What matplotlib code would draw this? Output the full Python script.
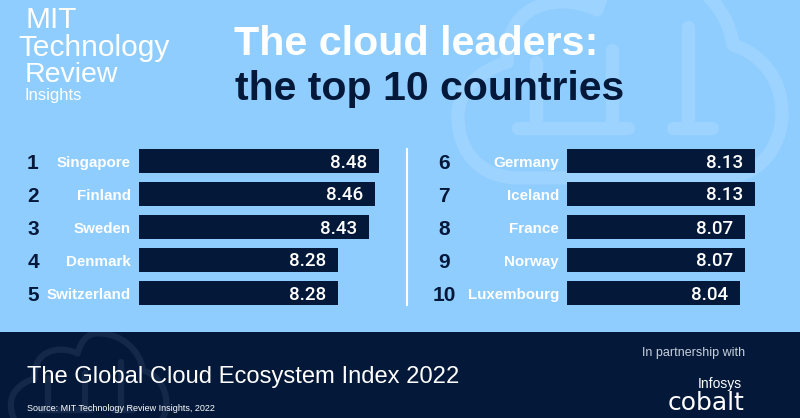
import matplotlib
matplotlib.use('Agg')
import matplotlib.pyplot as plt
from matplotlib.patches import PathPatch, Rectangle
from matplotlib.path import Path
from matplotlib.transforms import Affine2D

ranks_left = ['1', '2', '3', '4', '5']
countries_left = ['Singapore', 'Finland', 'Sweden', 'Denmark', 'Switzerland']
scores_left = [8.48, 8.46, 8.43, 8.28, 8.28]

ranks_right = ['6', '7', '8', '9', '10']
countries_right = ['Germany', 'Iceland', 'France', 'Norway', 'Luxembourg']
scores_right = [8.13, 8.13, 8.07, 8.07, 8.04]

SKY = '#90CDFF'
NAVY = '#04193A'
CLOUD_LIGHT = '#9DD3FF'
CLOUD_DARK = '#14294A'
W, H = 800, 418

plt.rcParams['font.family'] = ['Liberation Sans', 'DejaVu Sans']

fig = plt.figure(figsize=(W / 100, H / 100), dpi=100, facecolor=SKY)

# background layer in pixel coordinates, y pointing down
bg = fig.add_axes([0, 0, 1, 1], zorder=0)
bg.set_xlim(0, W)
bg.set_ylim(H, 0)
bg.axis('off')


def cloud_paths():
    # outline plus the three upright strokes and their feet
    outline = Path(
        [(507, 62), (478, 72), (458, 90), (458, 116),
         (458, 150), (478, 178), (520, 178),
         (590, 178), (650, 178), (720, 178),
         (758, 178), (782, 148), (782, 113),
         (782, 80), (762, 54), (733, 45),
         (728, 5), (690, -32), (640, -32),
         (620, -32), (606, -22), (597, 10),
         (570, -5), (505, -5), (507, 62)],
        [Path.MOVETO] + [Path.CURVE4] * 24)
    strokes = Path(
        [(536, 62), (536, 128), (612, 50), (612, 128), (688, 27), (688, 128),
         (518, 128), (628, 128), (673, 128), (712, 128)],
        [Path.MOVETO, Path.LINETO] * 5)
    return outline, strokes


big = bg.transData
small = Affine2D().translate(-452, 14).scale(0.48).translate(8, 342) + bg.transData

for p in cloud_paths():
    bg.add_patch(PathPatch(p, fc='none', ec=CLOUD_LIGHT, lw=9.5, capstyle='round',
                           joinstyle='round', transform=big, zorder=1))

# footer band
bg.add_patch(Rectangle((0, 332), W, H - 332, fc=NAVY, ec='none', zorder=2))
footer_clip = Rectangle((0, 332), W, H - 332, transform=bg.transData)
for p in cloud_paths():
    patch = PathPatch(p, fc='none', ec=CLOUD_DARK, lw=4.5, capstyle='round',
                      joinstyle='round', transform=small, zorder=3)
    bg.add_patch(patch)
    patch.set_clip_path(footer_clip)

# logo
bg.text(25, 28.5, 'MIT', color='white', fontsize=21.5, zorder=4)
bg.text(18, 55.5, 'Technology', color='white', fontsize=21.5, zorder=4)
bg.text(25, 81.5, 'Review', color='white', fontsize=20.5, zorder=4)
bg.text(25, 100, 'Insights', color='white', fontsize=12, zorder=4)

# headline
bg.text(234, 55, 'The cloud leaders:', color='white', fontsize=29.7, fontweight='bold', zorder=4)
bg.text(235, 100, 'the top 10 countries', color=NAVY, fontsize=29.5, fontweight='bold', zorder=4)

# divider between the two columns
bg.plot([407, 407], [149, 305], color='white', lw=1.5, zorder=4)

# footer texts
bg.text(27, 383, 'The Global Cloud Ecosystem Index 2022', color='white', fontsize=17.1, zorder=4)
bg.text(27, 411, 'Source: MIT Technology Review Insights, 2022', color='white', fontsize=6.5, zorder=4)
bg.text(642, 356, 'In partnership with', color='#C8D0DC', fontsize=9, zorder=4)
bg.text(698, 388, 'Infosys', color='white', fontsize=10, zorder=4)
bg.text(668, 410, 'cobalt', color='white', fontsize=18, family='DejaVu Sans', zorder=4)


def draw_column(x_px, zero, slope, ranks, countries, scores, rank_x):
    width_px = 260
    ax = fig.add_axes([x_px / W, 1 - 309.5 / H, width_px / W, 165 / H], zorder=1)
    ax.patch.set_alpha(0)
    ax.axis('off')
    ax.set_xlim(zero, zero + width_px / slope)
    ax.set_ylim(4.5, -0.5)
    ax.barh(range(len(scores)), scores, left=0, height=24 / 33, color=NAVY)
    # baselines are fixed offsets from the row centre so descenders don't shift the text
    for i, (rank, country, score) in enumerate(zip(ranks, countries, scores)):
        ax.annotate(f'{score:.2f}', (score, i), xytext=(-12, -6.5), textcoords='offset pixels',
                    ha='right', va='baseline', color='white', fontsize=13.5,
                    family='Roboto', fontweight='medium')
        ax.annotate(country, (0, i), xycoords=('axes fraction', 'data'), xytext=(-8, -6),
                    textcoords='offset pixels', ha='right', va='baseline',
                    color='white', fontsize=10.9, fontweight='bold')
        ax.annotate(rank, (0, i), xycoords=('axes fraction', 'data'), xytext=(rank_x - x_px, -8),
                    textcoords='offset pixels', ha='center', va='baseline',
                    color=NAVY, fontsize=15, fontweight='bold')
    return ax


draw_column(139, 7.316, 206.5, ranks_left, countries_left, scores_left, 33)
draw_column(567, 7.004, 167, ranks_right, countries_right, scores_right, 444)

fig.savefig('out.png', dpi=100, facecolor=SKY)
